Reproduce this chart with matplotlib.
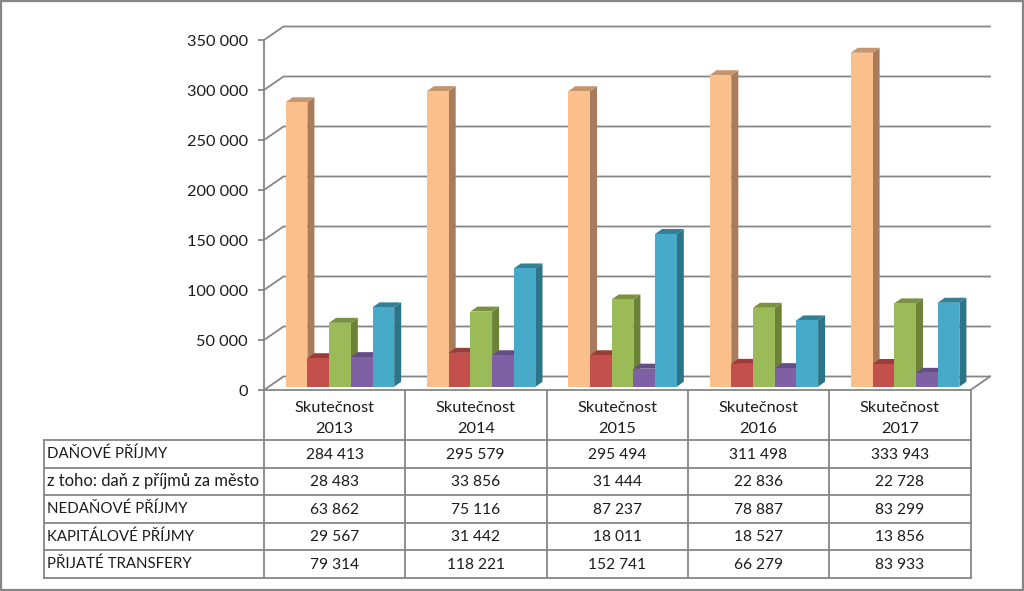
import matplotlib
matplotlib.use("Agg")
import matplotlib.pyplot as plt
from matplotlib.patches import Polygon
from matplotlib.lines import Line2D
from matplotlib.transforms import Affine2D

plt.rcParams['font.family'] = ['Lato', 'DejaVu Sans']

W, H = 1024, 591
years = ["2013", "2014", "2015", "2016", "2017"]
header_word = "Skutečnost"
row_labels = ["DAŇOVÉ PŘÍJMY", "z toho: daň z příjmů za město", "NEDAŇOVÉ PŘÍJMY",
              "KAPITÁLOVÉ PŘÍJMY", "PŘIJATÉ TRANSFERY"]
row_label_sizes = [10.8, 11.9, 10.8, 10.8, 10.8]
danove = [284413, 295579, 295494, 311498, 333943]
z_toho = [28483, 33856, 31444, 22836, 22728]
nedanove = [63862, 75116, 87237, 78887, 83299]
kapitalove = [29567, 31442, 18011, 18527, 13856]
transfery = [79314, 118221, 152741, 66279, 83933]
series = [danove, z_toho, nedanove, kapitalove, transfery]
yticks = [0, 50000, 100000, 150000, 200000, 250000, 300000, 350000]

front = ["#FBBF8C", "#C4504E", "#9BBB59", "#8060A5", "#46AAC8"]
side = ["#A87C5A", "#8C3A38", "#6C8236", "#5A4478", "#2C7488"]
top = ["#C4966E", "#9C3C3A", "#7A9240", "#644C84", "#327F96"]
GRID = "#868686"
TEXT = "#1c1c1c"

fig = plt.figure(figsize=(W / 100, H / 100), dpi=100, facecolor="white")
px = Affine2D().scale(1, -1).translate(0, H)

X0, X1, Y0, Y1 = 264, 970.5, 390, 40
ax = fig.add_axes([X0 / W, (H - Y0) / H, (X1 - X0) / W, (Y0 - Y1) / H])
ax.set_xlim(0, 5)
ax.set_ylim(0, 350000)
ax.patch.set_alpha(0)
for s in ["top", "right"]:
    ax.spines[s].set_visible(False)
for s in ["left", "bottom"]:
    ax.spines[s].set_color(GRID)
    ax.spines[s].set_linewidth(1.3)
ax.set_xticks([])
ax.set_yticks(yticks)
ax.set_yticklabels([f"{v:,}".replace(",", " ") for v in yticks])
ax.tick_params(axis="y", length=4, width=1.3, color=GRID, labelsize=11.7,
               labelcolor=TEXT, pad=7.5)

# scale factors: pixels expressed in data units
ux = 5 / (X1 - X0)
uy = 350000 / (Y0 - Y1)
wall_dx, wall_dy = 19.5 * ux, 13.5 * uy
bar_dx, bar_dy = 7 * ux, 5 * uy
base = 3.3 * uy
bar_w = 21.7 * ux
start = 21.7 * ux

# wall gridlines and floor
for v in yticks:
    xs = [0, wall_dx, 5 + wall_dx]
    ys = [v, v + wall_dy, v + wall_dy]
    ax.plot(xs, ys, color=GRID, lw=1.3, clip_on=False, zorder=1, solid_joinstyle="miter")
ax.plot([5, 5 + wall_dx], [0, wall_dy], color=GRID, lw=1.3, clip_on=False, zorder=1)

# bars
z = 2
for g in range(len(years)):
    for k, vals in enumerate(series[:]):
        v = vals[g]
        l = g + start + k * bar_w
        r = l + bar_w
        b = base
        t = base + v
        ax.add_patch(Polygon([(r, b), (r + bar_dx, b + bar_dy), (r + bar_dx, t + bar_dy), (r, t)],
                             closed=True, fc=side[k], ec="none", clip_on=False, zorder=z))
        ax.add_patch(Polygon([(l, t), (l + bar_dx, t + bar_dy), (r + bar_dx, t + bar_dy), (r, t)],
                             closed=True, fc=top[k], ec="none", clip_on=False, zorder=z))
        ax.add_patch(Polygon([(l, b), (r, b), (r, t), (l, t)],
                             closed=True, fc=front[k], ec="none", clip_on=False, zorder=z))
        z += 1


def line(x0, y0, x1, y1, lw=1.3, color=GRID):
    fig.add_artist(Line2D([x0, x1], [y0, y1], transform=px, color=color, lw=lw))


def text(x, y, s, ha="center", size=11.2):
    fig.text(x, y, s, transform=px, ha=ha, va="center", fontsize=size, color=TEXT)


# data table
col_x = [264, 405, 546.5, 688, 829, 970.5]
row_y = [440, 467.5, 495, 522.7, 550.3, 578]
TL = 43.5
for x in col_x:
    line(x, 390, x, row_y[-1])
line(TL, row_y[0], TL, row_y[-1])
for y in row_y:
    line(TL, y, col_x[-1], y)

for c, yr in enumerate(years):
    cx = (col_x[c] + col_x[c + 1]) / 2
    text(cx, 408, header_word, size=11.8)
    text(cx, 429, yr, size=11.8)
for r, (lab, vals) in enumerate(zip(row_labels, series)):
    cy = (row_y[r] + row_y[r + 1]) / 2
    text(47, cy, lab, ha="left", size=row_label_sizes[r])
    for c, v in enumerate(vals):
        text((col_x[c] + col_x[c + 1]) / 2, cy + 0.8, f"{v:,}".replace(",", " "))

# outer frame
for a, b, c, d in [(1, 1, 1023, 1), (1, 589.5, 1023, 589.5), (1, 1, 1, 590), (1022.5, 1, 1022.5, 590)]:
    line(a, b, c, d, lw=1.6)

fig.savefig("out.png", dpi=100)
